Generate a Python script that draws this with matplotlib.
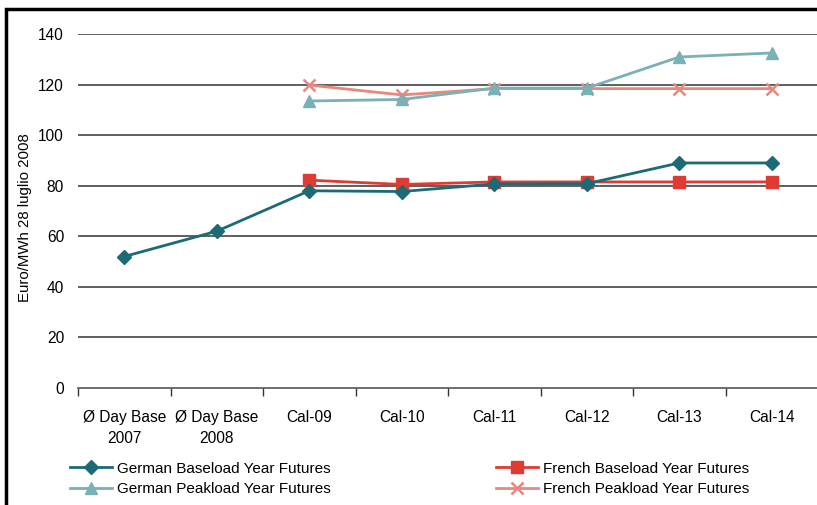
import matplotlib
matplotlib.use("Agg")
import matplotlib.pyplot as plt
from matplotlib.patches import Rectangle
import numpy as np

plt.rcParams['font.family'] = ['Liberation Sans', 'DejaVu Sans']

categories = ["Ø Day Base\n2007", "Ø Day Base\n2008", "Cal-09", "Cal-10",
              "Cal-11", "Cal-12", "Cal-13", "Cal-14"]
german_base = [52, 62, 78, 77.7, 80.7, 80.8, 89, 89]
french_base = [None, None, 82.2, 80.5, 81.5, 81.5, 81.5, 81.5]
german_peak = [None, None, 113.5, 114.1, 118.6, 118.6, 130.9, 132.5]
french_peak = [None, None, 119.8, 115.9, 118.4, 118.4, 118.4, 118.4]
y_ticks = [0, 20, 40, 60, 80, 100, 120, 140]
y_label = "Euro/MWh 28 luglio 2008"

W, H = 817, 505
fig = plt.figure(figsize=(W / 100, H / 100), dpi=100)
ax = fig.add_axes([78 / W, 1 - 388 / H, 740 / W, (388 - 34) / H])

x = np.arange(len(categories))


def arr(v):
    return np.array([np.nan if a is None else a for a in v], dtype=float)


ax.plot(x, arr(french_peak), color="#e8877e", lw=2, marker="x", ms=9, mew=1.8,
        label="French Peakload Year Futures", zorder=3)
ax.plot(x, arr(german_peak), color="#7ab1b6", lw=2, marker="^", ms=9,
        label="German Peakload Year Futures", zorder=3)
ax.plot(x, arr(french_base), color="#de3b33", lw=2, marker="s", ms=9,
        label="French Baseload Year Futures", zorder=4)
ax.plot(x, arr(german_base), color="#1b6a75", lw=2, marker="D", ms=7,
        label="German Baseload Year Futures", zorder=5)

ax.set_xlim(-0.5, len(categories) - 0.5)
ax.set_ylim(0, 140)
ax.set_yticks(y_ticks)
ax.set_xticks(x)
ax.set_xticklabels(categories, fontsize=11.2, linespacing=1.45)
ax.tick_params(axis="x", length=0, pad=16)
ax.set_xticks(np.arange(-0.5, len(categories), 1), minor=True)
ax.tick_params(axis="x", which="minor", length=6, width=1, color="#333333")
ax.tick_params(axis="y", length=0, labelsize=11.2, pad=10)

for s in ["top", "right", "left"]:
    ax.spines[s].set_visible(False)
ax.spines["bottom"].set_color("#555555")
ax.spines["bottom"].set_linewidth(1.2)

for yv in y_ticks[1:]:
    ax.axhline(yv, color="#333333", lw=1.1, zorder=1)

fig.text(25 / W, 1 - 218 / H, y_label, rotation=90, ha="center", va="center",
         fontsize=10.8)

handles, labels = ax.get_legend_handles_labels()
order = [3, 1, 2, 0]
leg = fig.legend([handles[i] for i in order], [labels[i] for i in order],
                 ncol=2, loc="upper left", bbox_to_anchor=(56 / W, 1 - 448 / H),
                 frameon=False, fontsize=11, handlelength=2.75, handletextpad=0.33,
                 columnspacing=10.8, labelspacing=0.4)

fig.patches.append(Rectangle((6 / W, -0.1), 1.2, 1 - 9 / H + 0.1,
                             transform=fig.transFigure, fill=False,
                             edgecolor="black", lw=2.5))

fig.savefig("out.png", dpi=100)
